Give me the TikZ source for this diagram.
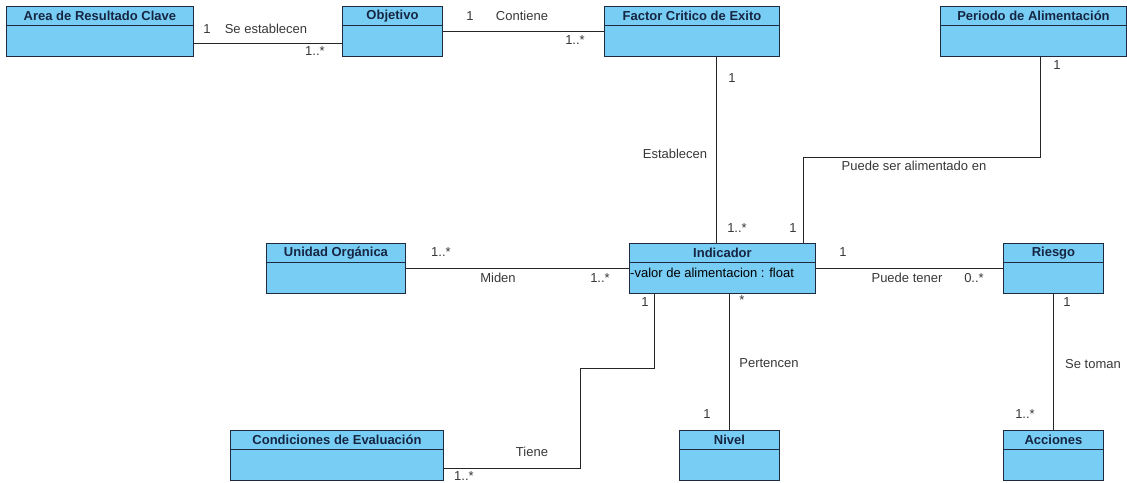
\documentclass[tikz,border=0pt]{standalone}
\usepackage{fontspec}
\setmainfont{Liberation Sans}
\usetikzlibrary{calc}

\definecolor{azulclase}{RGB}{120,205,245}
\definecolor{bordeclase}{RGB}{30,42,62}
\definecolor{textoclase}{RGB}{22,38,66}
\definecolor{textorel}{RGB}{55,55,55}

\tikzset{
  clase/.style={draw=bordeclase, fill=azulclase, line width=0.9pt, minimum height=50pt, minimum width=#1, inner sep=0pt, anchor=north west},
  titulo/.style={anchor=north, inner sep=0pt, minimum height=19pt, font=\fontsize{13}{15}\selectfont\bfseries, text=textoclase},
  rel/.style={draw=black!85, line width=0.8pt},
  etq/.style={font=\fontsize{13}{15}\selectfont, text=textorel, inner sep=0pt}
}

% caja de clase: nombre, x, y, ancho, titulo
\newcommand{\clase}[5]{%
  \node[clase=#4pt] (#1) at (#2,#3) {};
  \node[titulo] (#1-t) at (#1.north) {#5};
  \draw[bordeclase, line width=0.9pt] ([yshift=-19pt]#1.north west) -- ([yshift=-19pt]#1.north east);
}

\begin{document}
\begin{tikzpicture}[x=1pt, y=-1pt]
    \useasboundingbox (0,0) rectangle (1127,482);

    % clases
    \clase{arc}{6}{6}{187}{Area de Resultado Clave}
    \clase{obj}{342}{6}{100}{Objetivo}
    \clase{fce}{604}{6}{175}{Factor Critico de Exito}
    \clase{per}{940}{6}{186}{Periodo de Alimentación}
    \clase{uni}{266}{243}{139}{Unidad Orgánica}
    \clase{ind}{629}{243}{186}{Indicador}
    \clase{rie}{1003}{243}{100}{Riesgo}
    \clase{con}{230}{430}{213}{Condiciones de Evaluación}
    \clase{niv}{679}{430}{100}{Nivel}
    \clase{acc}{1003}{430}{100}{Acciones}
    \node[etq, anchor=west, text=black] (ind-a) at ([xshift=1pt,yshift=-30pt]ind.north west) {-valor de alimentacion : float};

    % relaciones
    \draw[rel] ([yshift=-12pt]arc.east) -- ([yshift=-12pt]obj.west);
    \draw[rel] (obj.east) -- (fce.west);
    \draw[rel] ([xshift=24.5pt]fce.south) -- ([xshift=-6pt]ind.north);
    \draw[rel] ([xshift=7pt]per.south) -- ++(0,100) -| ([xshift=81pt]ind.north);
    \draw[rel] (uni.east) -- (ind.west);
    \draw[rel] (ind.east) -- (rie.west);
    \draw[rel] (rie.south) -- (acc.north);
    \draw[rel] ([xshift=7pt]ind.south) -- (niv.north);
    \draw[rel] ([xshift=-68pt]ind.south) -- ++(0,74) -| ([xshift=136pt,yshift=-13pt]con.east) -- ([yshift=-13pt]con.east);

    % etiquetas
    \node[etq] (m1a) at (207,29) {1};
    \node[etq] (r1) at (266,29) {Se establecen};
    \node[etq] (m1b) at (315,51) {1..*};
    \node[etq] (m2a) at (470,16) {1};
    \node[etq] (r2) at (522,16) {Contiene};
    \node[etq] (m2b) at (575,40) {1..*};
    \node[etq] (m3a) at (732,78) {1};
    \node[etq] (r3) at (675,154) {Establecen};
    \node[etq] (m3b) at (737,228) {1..*};
    \node[etq] (m4b) at (793,228) {1};
    \node[etq] (m4a) at (1057,65) {1};
    \node[etq] (r4) at (914,166) {Puede ser alimentado en};
    \node[etq] (m5a) at (441,252) {1..*};
    \node[etq] (r5) at (498,278) {Miden};
    \node[etq] (m5b) at (600,278) {1..*};
    \node[etq] (m6a) at (843,252) {1};
    \node[etq] (r6) at (907,278) {Puede tener};
    \node[etq] (m6b) at (974,278) {0..*};
    \node[etq] (m7a) at (1067,302) {1};
    \node[etq] (r7) at (1093,364) {Se toman};
    \node[etq] (m7b) at (1025,414) {1..*};
    \node[etq] (m8a) at (742,300) {*};
    \node[etq] (r8) at (769,363) {Pertencen};
    \node[etq] (m8b) at (707,414) {1};
    \node[etq] (m9a) at (645,302) {1};
    \node[etq] (r9) at (532,452) {Tiene};
    \node[etq] (m9b) at (464,476) {1..*};
\end{tikzpicture}
\end{document}
